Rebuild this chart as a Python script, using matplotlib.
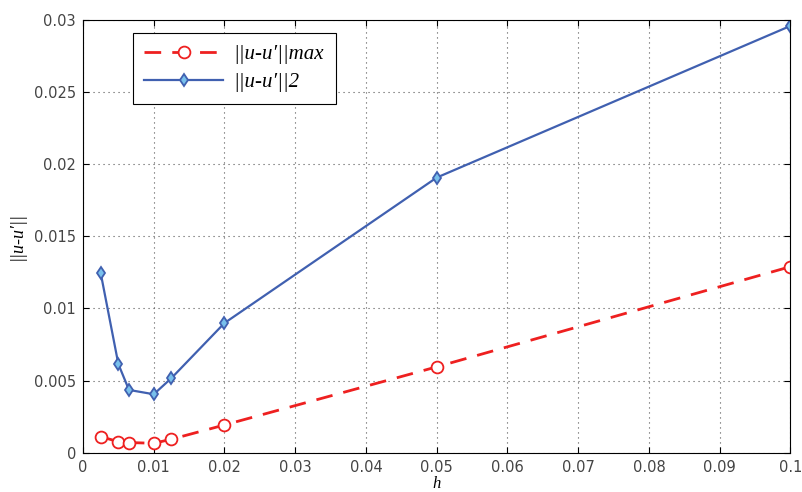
import matplotlib.pyplot as plt

h = [0.0025, 0.005, 0.0065, 0.01, 0.0125, 0.02, 0.05, 0.1]
err_max = [0.00111, 0.00076, 0.0007, 0.00065, 0.00093, 0.00192, 0.00595, 0.0129]
err_2 = [0.01246, 0.00614, 0.00435, 0.00405, 0.00517, 0.00899, 0.01908, 0.0296]

x_ticks = [0, 0.01, 0.02, 0.03, 0.04, 0.05, 0.06, 0.07, 0.08, 0.09, 0.1]
x_labels = ["0", "0.01", "0.02", "0.03", "0.04", "0.05", "0.06", "0.07", "0.08", "0.09", "0.1"]
y_ticks = [0, 0.005, 0.01, 0.015, 0.02, 0.025, 0.03]
y_labels = ["0", "0.005", "0.01", "0.015", "0.02", "0.025", "0.03"]

fig = plt.figure(figsize=(8.02, 4.92), dpi=100)
ax = fig.add_axes([0.1035, 0.08, 0.882, 0.879])

ax.plot(h, err_max, color="#ee2020", linestyle="--", linewidth=2, dashes=(6, 4),
        marker="o", markersize=8.5, markerfacecolor="white", markeredgecolor="#ee2020",
        markeredgewidth=1.3, label="||u-u′||max")
ax.plot(h, err_2, color="#4060b0", linewidth=1.6,
        marker="d", markersize=6.5, markerfacecolor="#78c0ec", markeredgecolor="#4060b0",
        markeredgewidth=1.3, label="||u-u′||2")

ax.set_xlim(0, 0.1)
ax.set_ylim(0, 0.03)
ax.set_xticks(x_ticks)
ax.set_xticklabels(x_labels)
ax.set_yticks(y_ticks)
ax.set_yticklabels(y_labels)
ax.tick_params(direction="in", labelsize=10.5, labelcolor="#444444", length=4,
               top=True, right=True, pad=5)
ax.grid(True, linestyle=(0, (1, 3.5)), color="#555555", linewidth=0.8)

ax.set_xlabel("h", fontsize=12, style="italic", family="Liberation Serif", labelpad=1)
ax.set_ylabel("||u-u′||", fontsize=13, style="italic", family="Liberation Serif", labelpad=6)

leg = ax.legend(loc="upper left", bbox_to_anchor=(0.07, 0.97), borderaxespad=0,
                fancybox=False, edgecolor="black", framealpha=1, handlelength=3.8,
                borderpad=0.55, labelspacing=0.4, handletextpad=0.5,
                prop={"family": "Liberation Serif", "style": "italic", "size": 15})
leg.get_frame().set_linewidth(0.8)

fig.savefig("out.png", dpi=100)
